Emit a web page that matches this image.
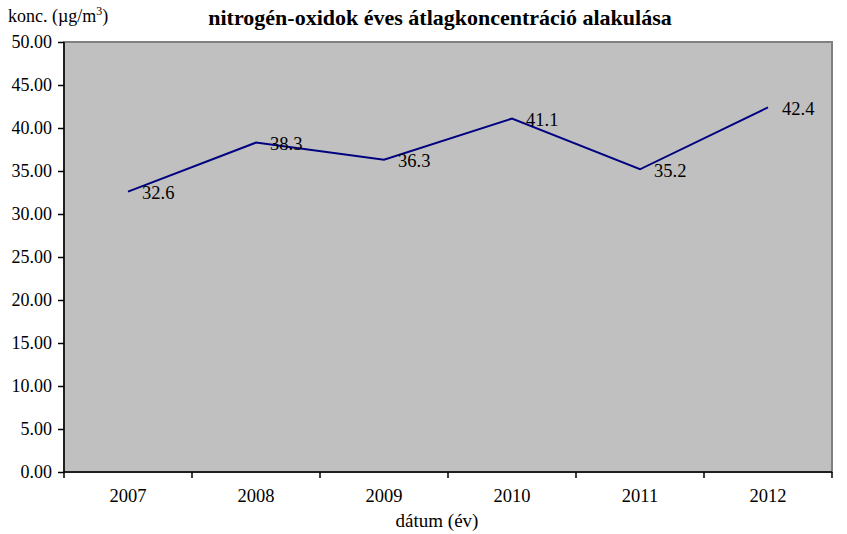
<!DOCTYPE html>
<html>
<head>
<meta charset="utf-8">
<script src="https://cdn.jsdelivr.net/npm/d3@7"></script>
<style>
  body { margin: 0; background: #fff; }
</style>
</head>
<body>
<div id="chart"></div>
<script>
const years = ["2007", "2008", "2009", "2010", "2011", "2012"];
const values = [32.6, 38.3, 36.3, 41.1, 35.2, 42.4];
const yTicks = [0, 5, 10, 15, 20, 25, 30, 35, 40, 45, 50];

const FONT = "Liberation Serif";
const width = 847;
const height = 534;
const margin = { top: 42, right: 15, bottom: 62, left: 64 };

const svg = d3
  .select("#chart")
  .append("svg")
  .attr("width", width)
  .attr("height", height)
  .attr("font-family", FONT);

const x = d3
  .scaleBand()
  .domain(years)
  .range([margin.left, width - margin.right]);

const y = d3
  .scaleLinear()
  .domain([0, 50])
  .range([height - margin.bottom, margin.top]);

// plot area
svg
  .append("rect")
  .attr("x", margin.left)
  .attr("y", margin.top)
  .attr("width", width - margin.right - margin.left)
  .attr("height", height - margin.bottom - margin.top)
  .attr("fill", "#c0c0c0")
  .attr("stroke", "#808080")
  .attr("stroke-width", 2);

// y axis
svg
  .append("g")
  .attr("transform", `translate(${margin.left},0)`)
  .call(
    d3
      .axisLeft(y)
      .tickValues(yTicks)
      .tickFormat(d3.format(".2f"))
      .tickSize(6)
      .tickPadding(6)
  )
  .attr("font-family", FONT)
  .attr("font-size", 18)
  .call((g) => g.selectAll("path, line").attr("stroke", "#000").attr("stroke-width", 1.5))
  .call((g) => g.select(".domain").attr("d", `M0,${y(0)}V${y(50)}`))
  .call((g) => g.selectAll("text").attr("fill", "#000"));

// x axis, ticks at category boundaries
const gX = svg
  .append("g")
  .attr("transform", `translate(0,${height - margin.bottom})`);

gX.append("line")
  .attr("x1", margin.left)
  .attr("x2", width - margin.right)
  .attr("stroke", "#000")
  .attr("stroke-width", 1.5);

gX.selectAll(".tick-line")
  .data(years.map((d) => x(d)).concat([x(years[years.length - 1]) + x.bandwidth()]))
  .join("line")
  .attr("class", "tick-line")
  .attr("x1", (d) => d)
  .attr("x2", (d) => d)
  .attr("y1", 0)
  .attr("y2", 6)
  .attr("stroke", "#000")
  .attr("stroke-width", 1.5);

gX.selectAll(".year")
  .data(years)
  .join("text")
  .attr("class", "year")
  .attr("x", (d) => x(d) + x.bandwidth() / 2)
  .attr("y", 29.5)
  .attr("text-anchor", "middle")
  .attr("font-size", 18.5)
  .text((d) => d);

// line
const line = d3
  .line()
  .x((d, i) => x(years[i]) + x.bandwidth() / 2)
  .y((d) => y(d));

svg
  .append("path")
  .datum(values)
  .attr("fill", "none")
  .attr("stroke", "#000080")
  .attr("stroke-width", 2)
  .attr("d", line);

// data labels, right of each point
svg
  .append("g")
  .selectAll("text")
  .data(values)
  .join("text")
  .attr("x", (d, i) => x(years[i]) + x.bandwidth() / 2 + 14)
  .attr("y", (d) => y(d))
  .attr("dy", "0.4em")
  .attr("font-size", 18.5)
  .text((d) => d3.format(".1f")(d));

// titles
svg
  .append("text")
  .attr("x", 440)
  .attr("y", 25)
  .attr("text-anchor", "middle")
  .attr("font-size", 22)
  .attr("font-weight", "bold")
  .text("nitrogén-oxidok éves átlagkoncentráció alakulása");

const yTitle = svg
  .append("text")
  .attr("x", 8)
  .attr("y", 22)
  .attr("font-size", 18);
yTitle.append("tspan").text("konc. (µg/m");
yTitle.append("tspan").attr("dy", -7).attr("font-size", 12).text("3");
yTitle.append("tspan").attr("dy", 7).text(")");

svg
  .append("text")
  .attr("x", 437)
  .attr("y", 527)
  .attr("text-anchor", "middle")
  .attr("font-size", 19)
  .text("dátum (év)");
</script>
</body>
</html>
